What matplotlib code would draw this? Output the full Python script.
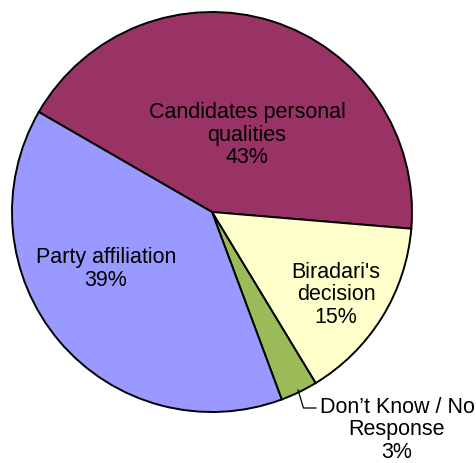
import matplotlib.pyplot as plt

plt.rcParams['font.family'] = ['Liberation Sans', 'DejaVu Sans']

labels = ["Candidates personal\nqualities", "Biradari's\ndecision",
          "Don\u2019t Know / No\nResponse", "Party affiliation"]
shares = [43, 15, 3, 39]
colors = ["#993366", "#FFFFCC", "#9BBB59", "#9999FF"]

W, H = 477, 463
fig = plt.figure(figsize=(W / 100, H / 100), dpi=100)
ax = fig.add_axes([0, 0, 1, 1])

cx, cy, r = 212, H - 212, 200
ax.pie(shares, colors=colors, startangle=150, counterclock=False,
       center=(cx, cy), radius=r, frame=True,
       wedgeprops=dict(edgecolor="black", linewidth=1.4))
ax.set_xlim(0, W)
ax.set_ylim(0, H)
ax.axis("off")

# label centres in pixel coords (from top-left)
label_pos = [(247, 135), (336, 295), (397, 430), (106, 269)]
for lab, val, (x, y) in zip(labels, shares, label_pos):
    ax.text(x, H - y, f"{lab}\n{val}%", ha="center", va="center",
            fontsize=15.5, linespacing=1.12, color="black")

# leader line for the small slice
ax.plot([298, 303.5, 316], [H - 390, H - 408, H - 408], color="black", lw=0.9)

fig.savefig("out.png", dpi=100)
